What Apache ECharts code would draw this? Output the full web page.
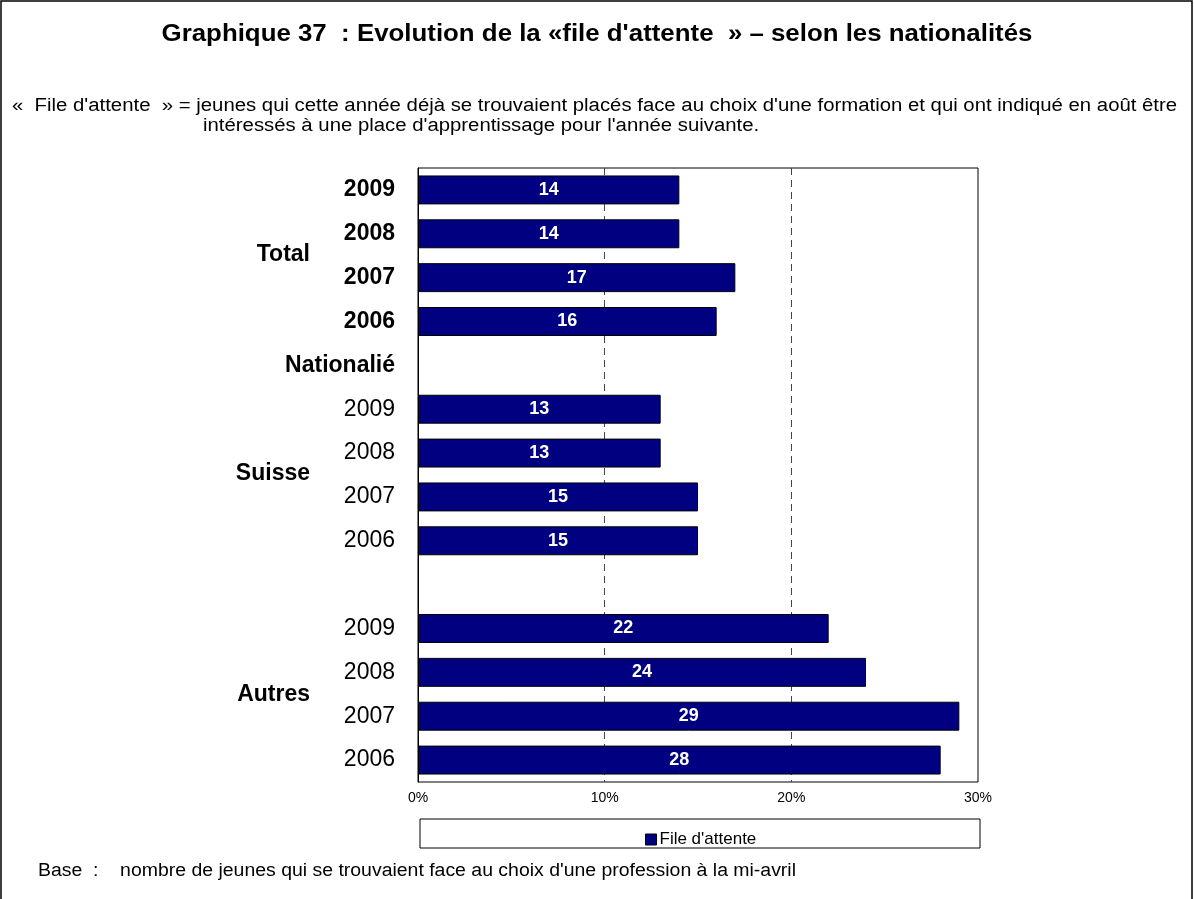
<!DOCTYPE html>
<html>
<head>
<meta charset="utf-8">
<script src="https://cdn.jsdelivr.net/npm/echarts@6/dist/echarts.min.js"></script>
<style>
  html, body { margin: 0; padding: 0; background: #fff; }
  #chart { width: 1194px; height: 899px; }
</style>
</head>
<body>
<div id="chart"></div>
<script>
// rows top to bottom
const categories = ['2009', '2008', '2007', '2006', 'Nationalié',
    '2009', '2008', '2007', '2006', '',
    '2009', '2008', '2007', '2006'];
const waitingQueue = [14, 14, 17, 16, '-', 13, 13, 15, 15, '-', 22, 24, 29, 28];
const xTicks = { min: 0, max: 30, interval: 10 };
const groups = [
    { name: 'Total', y: 255 },
    { name: 'Suisse', y: 474 },
    { name: 'Autres', y: 695 }
];

const font = 'Arial, "Liberation Sans", sans-serif';
const chart = echarts.init(document.getElementById('chart'));

const graphics = [
    {
        type: 'rect',
        shape: { x: 1, y: 1, width: 1191, height: 920 },
        style: { fill: null, stroke: '#000', lineWidth: 1.5 },
        silent: true
    },
    {
        type: 'text', x: 597, y: 35, scaleX: 1.1,
        style: {
            text: "Graphique 37  : Evolution de la «file d'attente  » – selon les nationalités",
            font: 'bold 23.5px ' + font, fill: '#000',
            textAlign: 'center', textVerticalAlign: 'middle'
        }
    },
    {
        type: 'text', x: 12, y: 106, scaleX: 1.13,
        style: {
            text: "«  File d'attente  » = jeunes qui cette année déjà se trouvaient placés face au choix d'une formation et qui ont indiqué en août être",
            font: '18px ' + font, fill: '#000', textVerticalAlign: 'middle'
        }
    },
    {
        type: 'text', x: 203, y: 126, scaleX: 1.13,
        style: {
            text: "intéressés à une place d'apprentissage pour l'année suivante.",
            font: '18px ' + font, fill: '#000', textVerticalAlign: 'middle'
        }
    },
    {
        type: 'rect',
        shape: { x: 420, y: 819, width: 560, height: 29 },
        style: { fill: '#fff', stroke: '#000', lineWidth: 1 },
        z: -1
    },
    {
        type: 'text', x: 38, y: 871, scaleX: 1.08,
        style: {
            text: 'Base  :    nombre de jeunes qui se trouvaient face au choix d\'une profession à la mi-avril',
            font: '18px ' + font, fill: '#000', textVerticalAlign: 'middle'
        }
    }
];
groups.forEach(g => {
    graphics.push({
        type: 'text', x: 310, y: g.y,
        style: {
            text: g.name, font: 'bold 23px ' + font, fill: '#000',
            textAlign: 'right', textVerticalAlign: 'middle'
        }
    });
});

const option = {
    animation: false,
    textStyle: { fontFamily: font },
    legend: {
        left: 640,
        top: 826,
        itemWidth: 11,
        itemHeight: 11,
        textStyle: { fontSize: 17, color: '#000', fontFamily: font, padding: [0, 0, 0, -2] },
        data: [{ name: "File d'attente", icon: 'rect', itemStyle: { borderColor: '#000', borderWidth: 1 } }]
    },
    grid: {
        left: 418,
        right: 216,
        top: 168,
        bottom: 117,
        show: true,
        borderColor: '#000',
        borderWidth: 1,
        backgroundColor: '#fff'
    },
    xAxis: {
        type: 'value',
        min: xTicks.min,
        max: xTicks.max,
        interval: xTicks.interval,
        axisLine: { show: false },
        axisTick: { show: false },
        axisLabel: {
            formatter: '{value}%',
            fontSize: 14,
            color: '#000',
            margin: 9,
            fontFamily: font
        },
        splitLine: {
            show: true,
            showMinLine: false,
            showMaxLine: false,
            lineStyle: { type: [7, 5], color: '#444', width: 1 }
        }
    },
    yAxis: {
        type: 'category',
        inverse: true,
        data: categories,
        axisLine: { show: true, lineStyle: { color: '#000', width: 1 } },
        axisTick: { show: false },
        axisLabel: {
            margin: 23,
            formatter: (val, idx) => idx < 5 ? '{b|' + val + '}' : '{n|' + val + '}',
            rich: {
                b: { fontSize: 23, fontWeight: 'bold', color: '#000', fontFamily: font },
                n: { fontSize: 23, color: '#000', fontFamily: font }
            }
        }
    },
    series: [{
        name: "File d'attente",
        type: 'bar',
        data: waitingQueue,
        barCategoryGap: '34%',
        itemStyle: { color: '#000080', borderColor: '#000', borderWidth: 1 },
        label: {
            show: true,
            position: 'inside',
            color: '#fff',
            fontSize: 18,
            fontWeight: 'bold',
            fontFamily: font
        }
    }],
    graphic: graphics
};

chart.setOption(option);
</script>
</body>
</html>
